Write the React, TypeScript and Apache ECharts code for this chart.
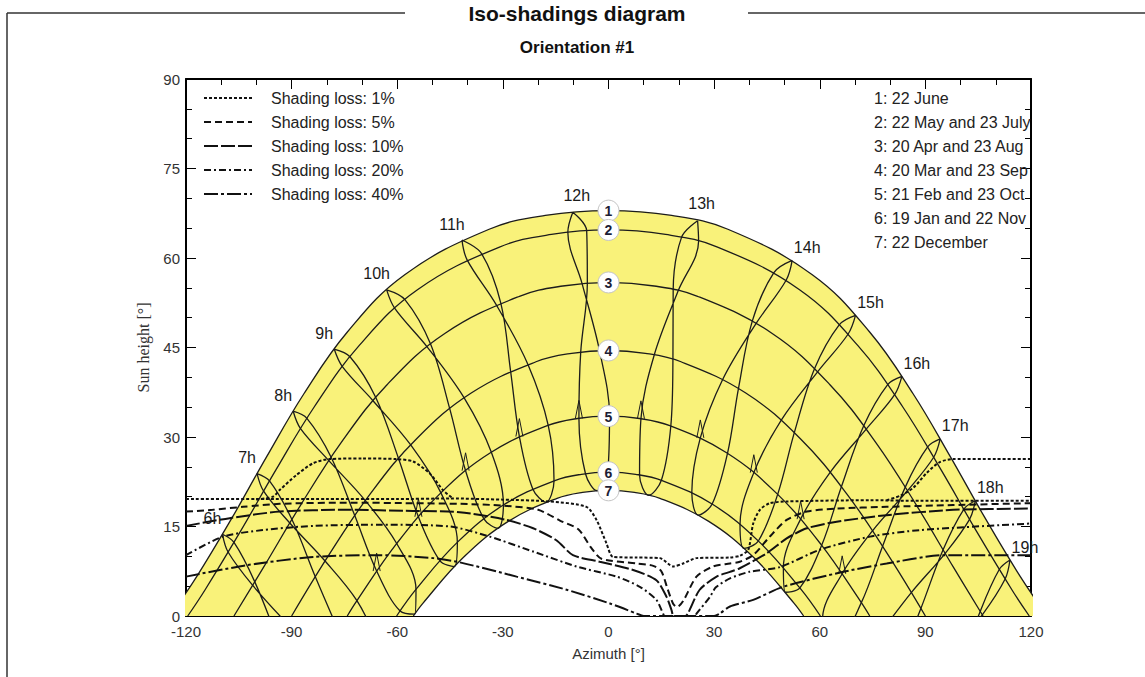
import React, { useEffect, useRef } from "react";
import * as echarts from "echarts";

// ---------- data (azimuth [deg], sun height [deg]) ----------
const dateNames = [
  "1: 22 June",
  "2: 22 May and 23 July",
  "3: 20 Apr and 23 Aug",
  "4: 20 Mar and 23 Sep",
  "5: 21 Feb and 23 Oct",
  "6: 19 Jan and 22 Nov",
  "7: 22 December",
];
const curveIds = ["1", "2", "3", "4", "5", "6", "7"];

const path1 = [[-124.58,0],[-116.83,6.73],[-106.9,16.48],[-97.04,26.75],[-86.51,37.25],[-74.17,47.6],[-57.88,57.2],[-33.9,64.82],[-17.93,67.13],[0,67.94],[17.93,67.13],[33.9,64.82],[57.88,57.2],[74.17,47.6],[86.51,37.25],[97.04,26.75],[106.9,16.48],[116.83,6.73],[124.58,0]];
const path2 = [[-119.51,0],[-114.61,4.36],[-104.46,14.26],[-94.34,24.61],[-83.5,35.11],[-70.78,45.35],[-54.26,54.69],[-30.97,61.83],[-16.2,63.95],[0,64.7],[16.2,63.95],[30.97,61.83],[54.26,54.69],[70.78,45.35],[83.5,35.11],[94.34,24.61],[104.46,14.26],[114.61,4.36],[119.51,0]];
const path3 = [[-106.38,0],[-98.04,8.1],[-87.44,18.59],[-76.04,28.98],[-62.83,38.81],[-46.39,47.4],[-25.3,53.58],[-12.98,55.31],[0,55.9],[12.98,55.31],[25.3,53.58],[46.39,47.4],[62.83,38.81],[76.04,28.98],[87.44,18.59],[98.04,8.1],[106.38,0]];
const path4 = [[-90,0],[-79.18,10.45],[-67.62,20.52],[-54.5,29.71],[-38.99,37.37],[-20.59,42.61],[-10.47,44.02],[0,44.5],[10.47,44.02],[20.59,42.61],[38.99,37.37],[54.5,29.71],[67.62,20.52],[79.18,10.45],[90,0]];
const path5 = [[-74.2,0],[-71.63,2.41],[-60.35,12.0],[-47.83,20.51],[-33.54,27.37],[-17.41,31.9],[-8.81,33.1],[0,33.5],[8.81,33.1],[17.41,31.9],[33.54,27.37],[47.83,20.51],[60.35,12.0],[71.63,2.41],[74.2,0]];
const path6 = [[-60.18,0],[-54.52,4.58],[-42.74,12.47],[-29.65,18.68],[-15.24,22.7],[-7.69,23.75],[0,24.1],[7.69,23.75],[15.24,22.7],[29.65,18.68],[42.74,12.47],[54.52,4.58],[60.18,0]];
const path7 = [[-55.42,0],[-52.67,2.17],[-41.18,9.85],[-28.47,15.86],[-14.61,19.72],[-7.36,20.72],[0,21.06],[7.36,20.72],[14.61,19.72],[28.47,15.86],[41.18,9.85],[52.67,2.17],[55.42,0]];

const hourNames = ["6h","7h","8h","9h","10h","11h","12h","13h","14h","15h","16h","17h","18h","19h"];
// sun position at each legal hour (6h..19h) for each date
const posJun = [[-109.64,13.7],[-99.82,23.86],[-89.56,34.32],[-77.91,44.74],[-63.01,54.66],[-41.62,63.0],[-10.14,67.68],[25.31,66.25],[52.17,59.61],[70.16,50.39],[83.33,40.16],[94.21,29.67],[104.17,19.31],[114.02,9.38]];
const posJul = [[-108.01,10.69],[-97.95,20.92],[-87.47,31.41],[-75.59,41.8],[-60.7,51.55],[-40.16,59.69],[-11.55,64.32],[20.74,63.46],[46.97,57.56],[65.52,48.8],[79.3,38.78],[90.64,28.33],[100.91,17.88],[110.98,7.79]];
const posAug = [[-101.05,5.13],[-90.52,15.58],[-79.43,26.04],[-66.89,36.08],[-51.52,45.12],[-31.86,52.14],[-7.5,55.71],[18.37,54.7],[40.86,49.47],[58.51,41.44],[72.49,31.88],[84.29,21.6],[95.03,11.1],[105.57,0.77]];
const posSep = [[-91.28,-1.26],[-80.5,9.21],[-69.07,19.34],[-56.18,28.67],[-41.0,36.56],[-22.88,42.15],[-2.55,44.47],[18.3,43.03],[36.92,38.15],[52.78,30.73],[66.15,21.67],[77.85,11.69],[88.72,1.26],[99.5,-9.21]];
const posOct = [null,[-71.45,2.57],[-60.16,12.15],[-47.6,20.64],[-33.3,27.47],[-17.12,31.96],[0.29,33.5],[17.7,31.85],[33.8,27.27],[48.05,20.38],[60.55,11.85],[71.81,2.24],[82.42,-8.0],null];
const posNov = [null,[-65.4,-4.65],[-54.68,4.45],[-42.93,12.36],[-29.85,18.61],[-15.47,22.66],[-0.23,24.1],[15.02,22.74],[29.44,18.76],[42.56,12.57],[54.36,4.71],[65.1,-4.37],null,null];
const posDec = [null,null,[-55.05,0.3],[-43.81,8.28],[-31.38,14.7],[-17.76,19.08],[-3.24,21.0],[11.44,20.24],[25.49,16.91],[38.5,11.33],[50.24,3.98],[60.93,-4.69],null,null];
const posJan = [null,null,[-59.19,0.84],[-47.9,9.29],[-35.39,16.28],[-21.51,21.29],[-6.54,23.84],[8.82,23.64],[23.66,20.69],[37.35,15.35],[49.67,8.1],[60.79,-0.52],null,null];
const posFeb = [null,[-76.73,-2.41],[-65.85,7.53],[-53.99,16.63],[-40.59,24.35],[-25.31,30.08],[-8.4,33.13],[9.21,33.06],[26.08,29.86],[41.27,24.03],[54.57,16.23],[66.37,7.08],[77.22,-2.89],null];
const posMar = [[-94.0,-3.92],[-83.27,6.57],[-72.07,16.83],[-59.64,26.41],[-45.1,34.75],[-27.8,41.0],[-7.89,44.23],[12.99,43.75],[32.46,39.67],[49.03,32.79],[62.95,24.08],[74.99,14.28],[86.0,3.92],[96.73,-6.57]];
const posApr = [[-100.46,5.72],[-89.91,16.17],[-78.78,26.62],[-66.1,36.63],[-50.54,45.58],[-30.59,52.44],[-6.01,55.78],[19.79,54.5],[41.98,49.08],[59.39,40.93],[73.2,31.32],[84.92,21.0],[95.63,10.51],[106.17,0.2]];
const posMay = [[-106.37,12.33],[-96.29,22.63],[-85.66,33.12],[-73.42,43.45],[-57.82,53.02],[-36.05,60.73],[-6.2,64.6],[25.59,62.79],[50.45,56.27],[68.02,47.22],[81.27,37.09],[92.36,26.61],[102.55,16.2],[112.65,6.19]];

const lossNames = ["Shading loss: 1%","Shading loss: 5%","Shading loss: 10%","Shading loss: 20%","Shading loss: 40%"];
const loss1 = [[-120,19.6],[-100,19.6],[-80,19.6],[-60,19.6],[-45,19.7],[-30,19.5],[-16.7,19.2],[-6.3,18.3],[-3.4,16.1],[-0.6,12.2],[1.3,9.9],[8.0,9.8],[14.6,9.7],[18.4,8.3],[21.2,8.8],[25.0,9.7],[34.5,9.8],[37.3,10.1],[39.7,11.1],[41.1,15.5],[43.0,17.8],[45.8,18.9],[50.6,19.2],[74.3,19.4],[88.5,19.3],[120,19.3]];
const loss1Left = [[-100,19.5],[-95.3,20.0],[-93.4,21.1],[-88.7,23.6],[-83.9,25.6],[-79.2,26.3],[-70,26.4],[-60.2,26.3],[-55.5,25.9],[-50.8,23.9],[-47.0,21.1],[-44.2,19.7]];
const loss1Right = [[79,19.4],[83,20.2],[86.6,21.5],[90.4,24.0],[94.1,25.8],[97.9,26.3],[110,26.3],[120,26.3]];
const loss5 = [[-120,17.5],[-112.4,17.8],[-103.8,18.3],[-93.4,18.8],[-74.5,19.0],[-55.5,18.9],[-42.3,18.8],[-30,18.5],[-20,17.8],[-13.8,16.0],[-8.5,14.5],[-5,11.5],[-2,9.6],[8,8.8],[12.7,8.4],[15,7.5],[16.8,4.5],[18.4,2.0],[19.5,1.5],[21.2,2.5],[25,6.6],[29.7,8.3],[34.5,8.8],[37.3,9.1],[41.1,10.2],[45.8,13.3],[50.6,16.1],[56.3,17.5],[64.8,18.0],[79,18.3],[97.9,18.6],[120,18.9]];
const loss10 = [[-120,15.1],[-107.6,16.4],[-93.4,17.5],[-74.5,17.8],[-55.5,17.6],[-42.3,17.4],[-29,16.1],[-21.4,14.7],[-14.8,12.7],[-10.1,10.2],[-2.5,9.1],[7,7.7],[13.6,6.0],[16.5,3.2],[17.9,1.0],[18.5,0],[21.8,0],[22.6,0.5],[25.9,4.4],[30.7,6.6],[34.5,7.4],[37.3,8.0],[44.9,10.5],[50.6,13.0],[56.3,14.7],[64.8,15.8],[79,16.9],[97.9,17.8],[120,18.0]];
const loss20 = [[-120,10.2],[-109.5,13.3],[-98.2,14.4],[-83.9,15.1],[-65,15.3],[-45,15.0],[-33.7,13.3],[-21.4,10.8],[-9.1,8.3],[2.3,6.6],[8.9,4.9],[13.6,2.7],[15.5,0.4],[16,0],[24.5,0],[25,0.4],[28.8,3.2],[30.5,4.8],[34.5,6.3],[40,7.4],[48.7,8.2],[60,11.1],[74.3,13.3],[88.5,14.4],[120,15.5]];
const loss40 = [[-120,6.6],[-102.9,8.5],[-83.9,9.9],[-65,10.2],[-49.8,9.7],[-42.3,9.0],[-26.1,6.6],[-11.9,4.4],[0.4,2.1],[8,0.4],[10,0],[30,0],[31.6,0.4],[34.5,1.6],[41.1,2.7],[49.6,4.9],[66.7,7.4],[79,8.8],[95.1,10.2],[120,10.2]];

// ---------- styles ----------
const FONT = '"Liberation Sans", Arial, Helvetica, sans-serif';
const INK = "#1c1c1c";
const YELLOW = "#f9f27a";
const lossDash = [[3, 2], [7, 4], [14, 3], [7, 3, 2, 3], [14, 3, 3, 3]];
const SPIKE_H = 3; // height of the small marks at the February points [deg]
const SPIKE_W = 1; // half width [deg]

const months = [posJun, posJul, posAug, posSep, posOct, posNov, posDec, posJan, posFeb, posMar, posApr, posMay];

function hourPath(i: number) {
  const pts = months.map((m) => m[i]);
  const n = pts.length;
  if (pts.every((p) => p)) return [...pts, pts[0]];
  let start = 0;
  for (let k = 0; k < n; k++) {
    if (pts[k] && !pts[(k - 1 + n) % n]) { start = k; break; }
  }
  const out: any[] = [];
  for (let k = 0; k < n; k++) {
    const p = pts[(start + k) % n];
    if (!p) break;
    out.push(p);
  }
  return out;
}

export default function App() {
  const ref = useRef<HTMLDivElement>(null);
  useEffect(() => {
    if (!ref.current) return;
    const chart = echarts.init(ref.current, undefined, { renderer: "svg" });

    const line = (data: any, extra: any = {}) => ({
      type: "line", data, symbol: "none", smooth: 0.4, silent: true,
      lineStyle: { color: INK, width: 1.3 }, z: 3, ...extra,
    });

    const series: any[] = [];
    series.push(line(path1, { areaStyle: { color: YELLOW, opacity: 1, origin: "start" }, clip: false, z: 1 }));
    series.push(line(path7, { areaStyle: { color: "#ffffff", opacity: 1, origin: "start" }, z: 2 }));
    [path2, path3, path4, path5, path6].forEach((p) => series.push(line(p)));
    hourNames.forEach((_, i) => series.push(line(hourPath(i), { smooth: 0.35 })));

    // small inverted-V marks drawn at the February points of the hour lines
    posFeb.forEach((p) => {
      if (!p || p[1] < 0) return;
      series.push(line([[p[0] - SPIKE_W, p[1]], [p[0], p[1] + SPIKE_H], [p[0] + SPIKE_W, p[1]]], { smooth: false, lineStyle: { color: INK, width: 1 } }));
    });

    const lossSets = [[loss1, loss1Left, loss1Right], [loss5], [loss10], [loss20], [loss40]];
    lossSets.forEach((set, li) => {
      set.forEach((d) =>
        series.push(line(d, { smooth: 0.25, z: 4, lineStyle: { color: "#111", width: 2, type: lossDash[li] } }))
      );
    });

    // numbered circles at the noon point of each date curve
    const curves = [path1, path2, path3, path4, path5, path6, path7];
    series.push({
      type: "custom", silent: true, z: 6, clip: false,
      data: curves.map((c) => c.find((p) => p[0] === 0)),
      renderItem: (params: any, api: any) => {
        const pt = api.coord([api.value(0), api.value(1)]);
        return {
          type: "group",
          children: [
            { type: "circle", shape: { cx: pt[0], cy: pt[1], r: 10.5 }, style: { fill: "#fff", stroke: "#c4c4c4", lineWidth: 1 } },
            { type: "text", x: pt[0], y: pt[1] + 0.5, style: { text: curveIds[params.dataIndex], fill: "#1d1d35", fontFamily: FONT, fontWeight: "bold", fontSize: 14, align: "center", verticalAlign: "middle" } },
          ],
        };
      },
    });

    // hour labels placed beside the 22 June point of every hour line
    series.push({
      type: "custom", silent: true, z: 6, clip: false,
      data: posJun,
      renderItem: (params: any, api: any) => {
        const pt = api.coord([api.value(0), api.value(1)]);
        const h = 6 + params.dataIndex;
        const off = h < 12 ? [-10, -16] : h <= 13 ? [4, -17] : [15, -13];
        return {
          type: "text", x: pt[0] + off[0], y: pt[1] + off[1],
          style: { text: hourNames[params.dataIndex], fill: "#1a1a1a", fontFamily: FONT, fontSize: 16, align: "center", verticalAlign: "middle" },
        };
      },
    });

    const graphic: any[] = [
      { type: "line", shape: { x1: 7, y1: 13, x2: 405, y2: 13 }, style: { stroke: "#333", lineWidth: 1.5 } },
      { type: "line", shape: { x1: 748, y1: 13, x2: 1145, y2: 13 }, style: { stroke: "#333", lineWidth: 1.5 } },
      { type: "line", shape: { x1: 7, y1: 13, x2: 7, y2: 677 }, style: { stroke: "#333", lineWidth: 1.5 } },
      { type: "text", x: 577, y: 13, style: { text: "Iso-shadings diagram", fontFamily: FONT, fontWeight: "bold", fontSize: 21, fill: "#111", textAlign: "center", textVerticalAlign: "middle", align: "center", verticalAlign: "middle" } },
      { type: "text", x: 577, y: 47, style: { text: "Orientation #1", fontFamily: FONT, fontWeight: "bold", fontSize: 17, fill: "#111", textAlign: "center", textVerticalAlign: "middle", align: "center", verticalAlign: "middle" } },
    ];
    lossNames.forEach((n, i) => {
      const y = 98 + 24 * i;
      graphic.push({ type: "line", z: 10, shape: { x1: 204, y1: y, x2: 252, y2: y }, style: { stroke: "#111", lineWidth: 2, lineDash: lossDash[i] } });
      graphic.push({ type: "text", z: 10, x: 271, y, style: { text: n, fontFamily: FONT, fontSize: 16, fill: "#222", textAlign: "left", textVerticalAlign: "middle", align: "left", verticalAlign: "middle" } });
    });
    dateNames.forEach((n, i) => {
      const y = 98 + 24 * i;
      graphic.push({ type: "text", z: 10, x: 874, y, style: { text: n, fontFamily: FONT, fontSize: 16, fill: "#222", textAlign: "left", textVerticalAlign: "middle", align: "left", verticalAlign: "middle" } });
    });
    // mask the part of the date legend that runs past the right frame of the plot
    graphic.push({ type: "rect", z: 11, shape: { x: 1032.2, y: 84, width: 30, height: 172 }, style: { fill: "#fff" } });

    const axisCommon = {
      type: "value",
      axisLine: { show: true, onZero: false, lineStyle: { color: "#000", width: 2 } },
      axisTick: { show: true, inside: true, length: 10, lineStyle: { color: "#000", width: 1 } },
      minorTick: { show: true, splitNumber: 3, length: 6, lineStyle: { color: "#000", width: 1 } },
      splitLine: { show: false },
      minorSplitLine: { show: false },
    };
    const labelStyle = { fontFamily: FONT, fontSize: 15, color: "#333" };

    chart.setOption({
      animation: false,
      grid: { left: 186, top: 79, width: 845, height: 537, containLabel: false },
      xAxis: [
        { ...axisCommon, min: -120, max: 120, interval: 30, position: "bottom",
          axisLabel: { ...labelStyle, margin: 8 },
          name: "Azimuth [°]", nameLocation: "middle", nameGap: 30,
          nameTextStyle: { fontFamily: FONT, fontSize: 15, color: "#333" } },
        { ...axisCommon, min: -120, max: 120, interval: 30, position: "top", axisLabel: { show: false } },
      ],
      yAxis: [
        { ...axisCommon, min: 0, max: 90, interval: 15, position: "left",
          axisLabel: { ...labelStyle, margin: 6 },
          name: "Sun height [°]", nameLocation: "middle", nameGap: 35,
          nameTextStyle: { fontFamily: '"Liberation Serif", "Times New Roman", serif', fontSize: 16, color: "#333" } },
        { ...axisCommon, min: 0, max: 90, interval: 15, position: "right", axisLabel: { show: false } },
      ],
      series,
      graphic,
    });
    return () => chart.dispose();
  }, []);
  return <div ref={ref} style={{ position: "fixed", left: 0, top: 0, width: 1145, height: 677, background: "#fff" }} />;
}
